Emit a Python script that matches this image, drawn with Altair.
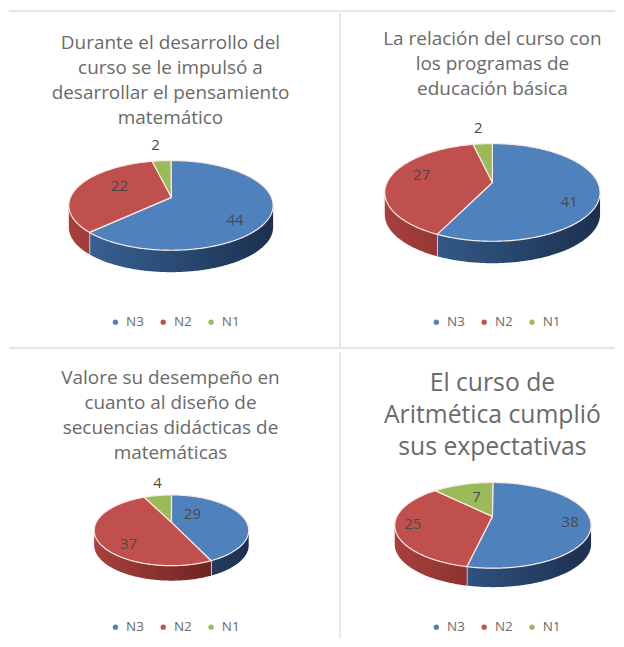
import math
import altair as alt
import pandas as pd

LEVELS = ["N3", "N2", "N1"]
COLORS = ["#4f81bd", "#c0504d", "#9bbb59"]

TITLES = [
    ["Durante el desarrollo del", "curso se le impulsó a", "desarrollar el pensamiento", "matemático"],
    ["La relación del curso con", "los programas de", "educación básica"],
    ["Valore su desempeño en", "cuanto al diseño de", "secuencias didácticas de", "matemáticas"],
    ["El curso de", "Aritmética cumplió", "sus expectativas"],
]
VALUES = [[44, 22, 2], [41, 27, 2], [29, 37, 4], [38, 25, 7]]

# panel frames, pie geometry and label placement (layout only)
FRAMES = [(8, 340, 8, 348), (340, 616, 8, 348), (8, 340, 348, 639), (340, 616, 348, 639)]
PIES = [
    dict(cx=170.5, cy=205, rx=102.5, ry=45, ax=171, ay=197, depth=22),
    dict(cx=493, cy=192, rx=108, ry=49, ax=493, ay=182, depth=22),
    dict(cx=171, cy=531, rx=77.5, ry=35.5, ax=171, ay=523, depth=15),
    dict(cx=493.5, cy=526, rx=98.5, ry=43, ax=493, ay=517, depth=19),
]
LABEL_R = [[0.70, 0.54, 1.64], [0.74, 0.668, 1.456], [0.281, 0.616, 1.01], [0.794, 0.83, 0.542]]
LABEL_DY = [[1, -11, 13], [0, -12, 6], [-14, 4.5, -11.7], [-7.6, -7.4, -5.8]]
TITLE_SIZE = [19, 19, 19, 24.8]
TITLE_LH = [25, 25, 25, 32]
TITLE_DX = [-4, 15, -4, 15]
TITLE_DY = [119, 90, 116, 113]
LEGEND_X = [100, 90, 100, 90]
LEGEND_Y = [307, 307, 273, 273]

WALL = {"N3": ((0x3a, 0x66, 0x99), (0x1c, 0x30, 0x50)), "N2": ((0xa8, 0x40, 0x3d), (0x5c, 0x1a, 0x1a))}
TEXT = "#6a6a6a"
LINE = "#e6e6e6"


def shade(level, f):
    a, b = WALL[level]
    return "#%02x%02x%02x" % tuple(round(a[i] + (b[i] - a[i]) * f) for i in range(3))


def rim(p, t):
    r = math.radians(t)
    return p["cx"] + p["rx"] * math.sin(r), p["cy"] - p["ry"] * math.cos(r)


def panel(i):
    x0, x1, y0, y1 = FRAMES[i]
    p = PIES[i]
    vals = VALUES[i]
    total = sum(vals)
    xs = alt.X("x:Q", scale=alt.Scale(domain=[x0, x1], nice=False, zero=False), axis=None)
    ys = alt.Y("y:Q", scale=alt.Scale(domain=[y1, y0], nice=False, zero=False), axis=None)

    top, labels, layers = [], [], []
    start = 0.0
    bounds = []
    for lev, v, lr, ld in zip(LEVELS, vals, LABEL_R[i], LABEL_DY[i]):
        end = start + 360 * v / total
        bounds.append((lev, start, end))
        pts = [(p["ax"], p["ay"])]
        t = start
        while t < end:
            pts.append(rim(p, t))
            t += 1
        pts.append(rim(p, end))
        pts.append((p["ax"], p["ay"]))
        for k, (a, b) in enumerate(pts):
            top.append(dict(x=a, y=b, k=k, nivel=lev))
        mid = math.radians((start + end) / 2)
        labels.append(dict(
            x=p["cx"] + lr * p["rx"] * math.sin(mid),
            y=p["cy"] - lr * p["ry"] * math.cos(mid) + ld,
            v=v,
        ))
        start = end

    # side wall of the front half
    for lev, s, e in bounds:
        a, b = max(s, 90), min(e, 270)
        if a >= b or lev not in WALL:
            continue
        rows = []
        t = a
        while t < b:
            rows.append(rim(p, t))
            t += 1
        rows.append(rim(p, b))
        df = pd.DataFrame([dict(x=u, y=w, y2=w + p["depth"]) for u, w in rows])
        f = lambda u: (u - (p["cx"] - p["rx"])) / (2 * p["rx"])
        lo, hi = df["x"].min(), df["x"].max()
        grad = alt.Gradient(
            gradient="linear",
            stops=[alt.GradientStop(color=shade(lev, f(lo)), offset=0),
                   alt.GradientStop(color=shade(lev, f(hi)), offset=1)],
            x1=0, x2=1, y1=0, y2=0,
        )
        layers.append(alt.Chart(df).mark_area(color=grad, interpolate="linear").encode(
            x=xs, y=ys, y2="y2:Q"))
        if lev == "N3" and b < 270:
            ex, ey = rim(p, b)
            layers.append(alt.Chart(pd.DataFrame([dict(x=ex, y=ey, y2=ey + p["depth"])]))
                          .mark_rule(color="#f4f4f4", strokeWidth=1.5)
                          .encode(x=xs, y=ys, y2="y2:Q"))

    legend = alt.Legend(
        title=None, orient="none", legendX=LEGEND_X[i], legendY=LEGEND_Y[i],
        direction="horizontal", columns=3, columnPadding=12, symbolType="circle",
        symbolSize=28, symbolStrokeWidth=0, labelFont="Open Sans", labelFontSize=13.5,
        labelColor=TEXT, labelOffset=4,
    )
    layers.append(alt.Chart(pd.DataFrame(top)).mark_line(
        stroke="#fbe9e4", strokeWidth=1.2, interpolate="linear", strokeJoin="round"
    ).encode(
        x=xs, y=ys, order="k:Q",
        fill=alt.Fill("nivel:N", scale=alt.Scale(domain=LEVELS, range=COLORS), legend=legend),
    ))
    layers.append(alt.Chart(pd.DataFrame(labels)).mark_text(
        font="Open Sans", fontSize=15, color="#4a4a4a"
    ).encode(x=xs, y=ys, text="v:Q"))

    # separators
    frame = [dict(x=x0, x2=x1, y=y0 + 2 if y0 == 8 else y0, y2=y0 + 2 if y0 == 8 else y0)]
    if x0 == 340:
        frame.append(dict(x=340, x2=340, y=y0 + 4, y2=y1))
    layers.append(alt.Chart(pd.DataFrame(frame)).mark_rule(color=LINE, strokeWidth=2).encode(
        x=xs, x2="x2:Q", y=ys, y2="y2:Q"))

    return alt.layer(*layers).properties(
        width=x1 - x0,
        height=y1 - y0,
        title=alt.TitleParams(
            text=TITLES[i], font="Open Sans", fontSize=TITLE_SIZE[i], fontWeight="normal",
            color=TEXT, lineHeight=TITLE_LH[i], anchor="middle", frame="group", orient="top",
            baseline="top", dx=TITLE_DX[i], dy=TITLE_DY[i], offset=0,
        ),
    )


chart = alt.concat(
    panel(0), panel(1), panel(2), panel(3),
    columns=2, spacing=0, bounds="flush", align="each",
).resolve_scale(fill="independent").resolve_legend(fill="independent").properties(
    padding=0, background="white"
).configure_view(stroke=None)

chart.save("out.html", embed_options={"renderer": "svg", "actions": False})
